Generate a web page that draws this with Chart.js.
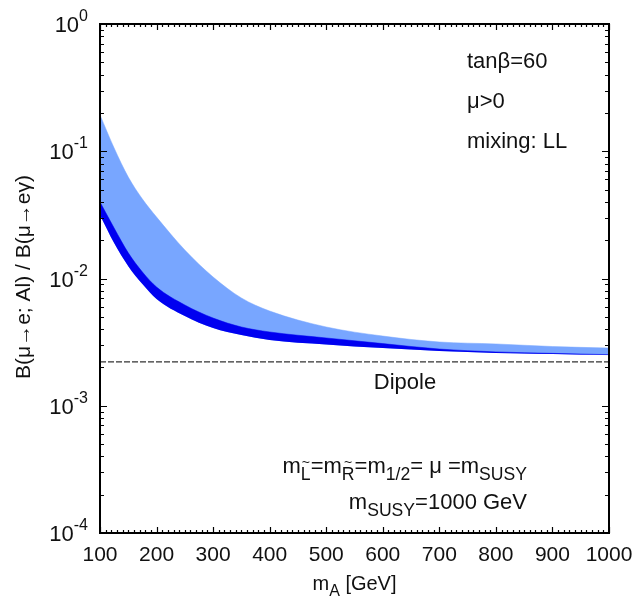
<!DOCTYPE html>
<html>
<head>
<meta charset="utf-8">
<script src="https://cdn.jsdelivr.net/npm/chart.js@4.4.1/dist/chart.umd.min.js"></script>
<style>
html,body{margin:0;padding:0;background:#fff;}
#wrap{position:relative;width:637px;height:601px;}
</style>
</head>
<body>
<div id="wrap"><canvas id="c" width="637" height="601"></canvas></div>
<script>
// ---- data ----
const mA = [100,125,150,175,200,250,300,350,400,500,600,700,800,900,1000];
const bandUpper = [0.193,0.106,0.0627,0.0421,0.0304,0.01675,0.01027,0.00703,0.00555,0.00416,0.00353,0.00317,0.00306,0.00292,0.00284];
const darkUpper = [0.0399,0.0249,0.0159,0.01125,0.00857,0.00619,0.00489,0.00416,0.0038,0.00341,0.00308,0.00279,0.00265,0.00258,0.00252];
const darkLower = [0.0316,0.019,0.0125,0.00905,0.0069,0.00507,0.00408,0.0036,0.00329,0.00303,0.00284,0.00269,0.0026,0.00255,0.0025];
const dipoleX = [100,1000];
const dipoleY = [0.00221,0.00221];
const xTicks = [100,200,300,400,500,600,700,800,900,1000];
const yTickExps = [0,-1,-2,-3,-4];

const FONT = '"Liberation Sans", Arial, sans-serif';
const pts = (xs, ys) => xs.map((x,i)=>({x:x,y:ys[i]}));

function drawRuns(ctx, runs, x, y, size, align){
  let w = 0;
  const meas = runs.map(r=>{
    const s = r.sub ? size*0.8 : size;
    ctx.font = s+'px '+FONT;
    const m = ctx.measureText(r.t).width;
    w += m; return {r, s, m};
  });
  let cx = align==='right' ? x-w : (align==='center' ? x-w/2 : x);
  meas.forEach(({r,s,m})=>{
    ctx.font = s+'px '+FONT;
    const yy = r.sub ? y + size*0.3 : y;
    ctx.fillText(r.t, cx, yy);
    if (r.tilde){
      ctx.font = (s*0.8)+'px '+FONT;
      ctx.textAlign='center';
      ctx.fillText('~', cx+m/2, yy - s*0.72);
      ctx.textAlign='left';
    }
    cx += m;
  });
}

const framePlugin = {
  id:'frame',
  afterDraw(chart){
    const ctx = chart.ctx, xs = chart.scales.x, ys = chart.scales.y;
    const a = chart.chartArea;
    ctx.save();
    ctx.strokeStyle='#000'; ctx.lineWidth=2;
    ctx.strokeRect(a.left, a.top, a.right-a.left, a.bottom-a.top);
    ctx.lineWidth=1.2;
    ctx.beginPath();
    for (let v=100; v<=1000; v+=10){
      const px = Math.round(xs.getPixelForValue(v))+0.5;
      const len = (v%100===0)?6:3;
      ctx.moveTo(px,a.bottom); ctx.lineTo(px,a.bottom-len);
      ctx.moveTo(px,a.top); ctx.lineTo(px,a.top+len);
    }
    for (let e=-4; e<=0; e++){
      for (let k=1;k<=9;k++){
        if (e===0 && k>1) break;
        const v = k*Math.pow(10,e);
        const py = Math.round(ys.getPixelForValue(v))+0.5;
        const len = (k===1)?7:4;
        ctx.moveTo(a.left,py); ctx.lineTo(a.left+len,py);
        ctx.moveTo(a.right,py); ctx.lineTo(a.right-len,py);
      }
    }
    ctx.stroke();
    ctx.fillStyle='#111';
    ctx.textBaseline='alphabetic';
    // x tick labels
    ctx.font='21px '+FONT; ctx.textAlign='center';
    xTicks.forEach(v=>{
      ctx.fillText(String(v), xs.getPixelForValue(v), 561);
    });
    // y tick labels (right-aligned as a whole at x=88)
    yTickExps.forEach(e=>{
      const py = ys.getPixelForValue(Math.pow(10,e));
      const sup = String(e);
      ctx.font='16px '+FONT;
      const ws = ctx.measureText(sup).width;
      ctx.font='22px '+FONT;
      const wb = ctx.measureText('10').width;
      const x0 = 88 - ws - wb;
      ctx.textAlign='left';
      ctx.fillText('10', x0, py+8);
      ctx.font='16px '+FONT;
      ctx.fillText(sup, x0+wb, py-3);
    });
    // x title
    ctx.textAlign='left';
    drawRuns(ctx,[{t:'m'},{t:'A',sub:true},{t:' [GeV]'}], (a.left+a.right)/2, 590, 20, 'center');
    // y title
    ctx.save();
    ctx.translate(30, 277);
    ctx.rotate(-Math.PI/2);
    ctx.font='21px '+FONT; ctx.textAlign='center';
    ctx.fillText('B(\u03BC\u2192e; Al) / B(\u03BC\u2192e\u03B3)', 0, 0);
    ctx.restore();
    // annotations
    ctx.textAlign='left';
    ctx.font='22px '+FONT;
    ctx.fillText('tan\u03B2=60', 467, 68);
    ctx.fillText('\u03BC>0', 467, 108);
    ctx.fillText('mixing: LL', 467, 148);
    ctx.textAlign='center';
    ctx.fillText('Dipole', 405, 389);
    ctx.textAlign='left';
    drawRuns(ctx,[{t:'m'},{t:'L',sub:true,tilde:true},{t:'=m'},{t:'R',sub:true,tilde:true},{t:'=m'},{t:'1/2',sub:true},{t:'= \u03BC =m'},{t:'SUSY',sub:true}], 527, 473, 22, 'right');
    drawRuns(ctx,[{t:'m'},{t:'SUSY',sub:true},{t:'=1000 GeV'}], 527, 509, 22, 'right');
    ctx.restore();
  }
};

new Chart(document.getElementById('c'), {
  type:'line',
  data:{
    datasets:[
      {label:'dark', data:pts(mA,darkUpper), fill:'+1', backgroundColor:'#0000f0', borderColor:'#0000f0', borderWidth:0.5, pointRadius:0, cubicInterpolationMode:'monotone'},
      {label:'lower', data:pts(mA,darkLower), fill:false, borderColor:'rgba(0,0,240,0)', borderWidth:0, pointRadius:0, cubicInterpolationMode:'monotone'},
      {label:'band', data:pts(mA,bandUpper), fill:1, backgroundColor:'#78a6ff', borderColor:'#78a6ff', borderWidth:0.5, pointRadius:0, cubicInterpolationMode:'monotone'},
      {label:'Dipole', data:pts(dipoleX,dipoleY), fill:false, borderColor:'#333', borderWidth:1.2, borderDash:[6,2], pointRadius:0}
    ]
  },
  options:{
    responsive:false, animation:false,
    layout:{padding:{left:0,top:24,right:28,bottom:0}},
    plugins:{legend:{display:false}, tooltip:{enabled:false}},
    scales:{
      x:{type:'linear', min:100, max:1000,
         grid:{display:false}, border:{display:false},
         ticks:{display:false},
         afterFit(s){ s.height = 68; }},
      y:{type:'logarithmic', min:1e-4, max:1,
         grid:{display:false}, border:{display:false},
         ticks:{display:false},
         afterFit(s){ s.width = 100; }}
    }
  },
  plugins:[framePlugin]
});
</script>
</body>
</html>
